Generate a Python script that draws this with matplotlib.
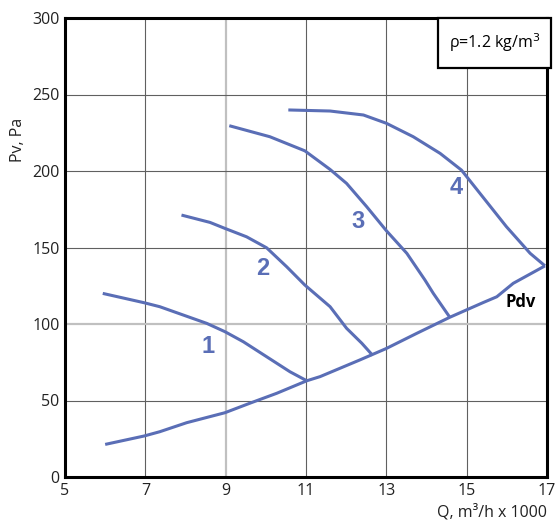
import matplotlib
matplotlib.use("Agg")
import matplotlib.pyplot as plt
from matplotlib.patches import Rectangle

plt.rcParams['font.family'] = ['Open Sans', 'DejaVu Sans']

# Data
curve1_q = [5.94, 6.97, 7.36, 7.94, 8.53, 8.98, 9.44, 10.02, 10.6, 11.02]
curve1_p = [120, 113.9, 111.3, 105.9, 100.4, 95, 88.4, 78.6, 68.8, 62.9]

curve2_q = [7.9, 8.61, 8.98, 9.52, 10.02, 10.52, 10.97, 11.6, 12.01, 12.39, 12.66]
curve2_p = [171.2, 166.4, 162.5, 157, 149.8, 137.4, 125.5, 111.3, 97.2, 87.4, 79.5]

curve3_q = [9.09, 10.1, 10.97, 11.6, 12.01, 12.51, 13.0, 13.51, 13.96, 14.17, 14.58]
curve3_p = [229.6, 222.4, 213.2, 201.0, 191.9, 176.7, 161.0, 146.2, 128.8, 120, 104.4]

curve4_q = [10.56, 11.6, 12.43, 13.0, 13.67, 14.34, 14.87, 15.33, 15.99, 16.58, 16.95]
curve4_p = [239.9, 239.2, 236.6, 231.2, 222.4, 211.5, 200.6, 185.4, 163.6, 146.2, 138]

pdv_q = [6.0, 6.97, 7.36, 8.03, 8.98, 9.6, 10.27, 11.02, 11.35, 12.34, 13.0,
         13.75, 14.58, 15.41, 15.75, 16.16, 16.95]
pdv_p = [21.3, 26.8, 29.6, 35.5, 42, 48.2, 54.7, 62.9, 65.6, 76.5, 84,
         93.8, 104.4, 114, 117.8, 126.6, 138]

curve_labels = ['1', '2', '3', '4']
label_q = [8.56, 9.93, 12.29, 14.73]
label_p = [85, 136.6, 166.7, 188.9]

x_ticks = [5, 7, 9, 11, 13, 15, 17]
y_ticks = [0, 50, 100, 150, 200, 250, 300]

blue = '#5a6eb6'

fig = plt.figure(figsize=(5.57, 5.22), dpi=100)
ax = fig.add_axes([65/557, 1-477/522, 482/557, 459/522])
ax.set_xlim(5, 17)
ax.set_ylim(0, 300)

# grid
for xv in x_ticks[1:-1]:
    if xv == 9:
        ax.axvline(xv, color='#c0c0c0', lw=1.6, zorder=1)
    else:
        ax.axvline(xv, color='#606060', lw=0.8, zorder=1)
for yv in y_ticks[1:-1]:
    if yv == 100:
        ax.axhline(yv, color='#c0c0c0', lw=1.6, zorder=1)
    else:
        ax.axhline(yv, color='#606060', lw=0.8, zorder=1)

for q, p in [(curve1_q, curve1_p), (curve2_q, curve2_p), (curve3_q, curve3_p),
             (curve4_q, curve4_p), (pdv_q, pdv_p)]:
    ax.plot(q, p, color=blue, lw=2.2, zorder=3, solid_capstyle='butt',
            solid_joinstyle='round')

for t, q, p in zip(curve_labels, label_q, label_p):
    ax.text(q, p, t, color=blue, fontsize=17, fontweight='bold',
            family=['Liberation Sans Narrow', 'Liberation Sans', 'DejaVu Sans'],
            ha='center', va='center', zorder=4)
ax.text(16.35, 114.4, 'Pdv', color='black', fontsize=12, fontweight='bold',
        ha='center', va='center', zorder=4)

ax.set_xticks(x_ticks)
ax.set_yticks(y_ticks)
ax.tick_params(length=0, labelsize=11.5, colors='#222222', pad=4)

for s in ax.spines.values():
    s.set_linewidth(2.2)
    s.set_color('black')

# density box
x0 = (438 - 65) / 482
y0 = (477 - 68) / 459
ax.add_patch(Rectangle((x0, y0), 1.0 - x0 + 0.008, 1.0 - y0, transform=ax.transAxes,
                       facecolor='white', edgecolor='black', lw=1.6, zorder=5,
                       clip_on=False))
ax.text(x0 + (1.008 - x0) / 2, y0 + (1 - y0) / 2, 'ρ=1.2 kg/m$^3$',
        transform=ax.transAxes, ha='center', va='center', fontsize=11.5, zorder=6)

fig.text(18/557, 1-140/522, 'Pv, Pa', rotation=90, ha='center', va='center',
         fontsize=11.5, color='#222222')
fig.text(547/557, 1-512/522, 'Q, m³/h x 1000', ha='right', va='center',
         fontsize=11.5, color='#222222')

fig.savefig('out.png', dpi=100)
